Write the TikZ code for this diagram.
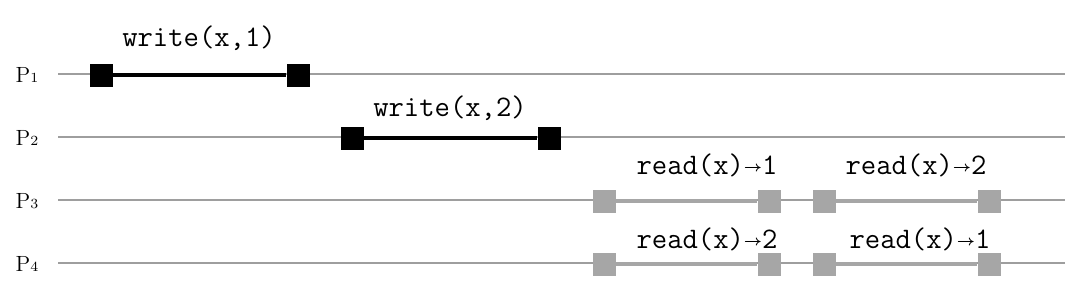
\documentclass[tikz,border=0pt]{standalone}
\usepackage{amsmath}
\usepackage{xcolor}
\usepackage{tikz}
\usetikzlibrary{positioning}

\definecolor{linegray}{RGB}{158,158,158}
\definecolor{opgray}{RGB}{166,166,166}
\newcommand{\retarrow}{\raisebox{1.5pt}{$\scriptscriptstyle\boldsymbol{\rightarrow}$}}
\newcommand{\pidx}[1]{{\fontsize{7}{8}\selectfont #1}}

\tikzset{
  proc/.style={draw=linegray, line width=1pt},
  ev/.style={rectangle, minimum size=11.5pt, inner sep=0pt, fill=black},
  evg/.style={ev, fill=opgray},
  opbar/.style={line width=2pt},
  oplabel/.style={font=\fontsize{14.9}{17}\ttfamily, inner sep=0pt, anchor=base},
  plabel/.style={font=\fontsize{11}{13}\selectfont, inner sep=0pt, anchor=base}
}

\begin{document}
\begin{tikzpicture}[x=0.5pt,y=-0.5pt]
\useasboundingbox (0,0) rectangle (1090,286);
% process time lines
\foreach \i/\y in {1/74,2/137,3/200,4/263}{
  \node[plabel] (p\i) at (27,\y+8) {P\pidx{\i}};
  \coordinate (s\i) at (58,\y);
  \coordinate (e\i) at (1065,\y);
  \draw[proc] (s\i) -- (e\i);
}
% P1: write(x,1)
\node[ev] (w1a) at (101,75) {};
\node[ev] (w1b) at (298,75) {};
\draw[opbar] (w1a) -- (w1b);
\node[oplabel] (w1) at (199,46) {write(x,1)};
% P2: write(x,2)
\node[ev] (w2a) at (352,138) {};
\node[ev] (w2b) at (549,138) {};
\draw[opbar] (w2a) -- (w2b);
\node[oplabel] (w2) at (450,116) {write(x,2)};
% P3: reads 1 then 2
\node[evg] (r3a) at (604,201) {};
\node[evg] (r3b) at (769,201) {};
\node[evg] (r3c) at (824,201) {};
\node[evg] (r3d) at (989,201) {};
\draw[opbar, draw=opgray] (r3a) -- (r3b);
\draw[opbar, draw=opgray] (r3c) -- (r3d);
\node[oplabel] (r31) at (707,174) {read(x)\retarrow1};
\node[oplabel] (r32) at (916,174) {read(x)\retarrow2};
% P4: reads 2 then 1
\node[evg] (r4a) at (604,264) {};
\node[evg] (r4b) at (769,264) {};
\node[evg] (r4c) at (824,264) {};
\node[evg] (r4d) at (989,264) {};
\draw[opbar, draw=opgray] (r4a) -- (r4b);
\draw[opbar, draw=opgray] (r4c) -- (r4d);
\node[oplabel] (r41) at (707,248) {read(x)\retarrow2};
\node[oplabel] (r42) at (920,248) {read(x)\retarrow1};
\end{tikzpicture}
\end{document}
